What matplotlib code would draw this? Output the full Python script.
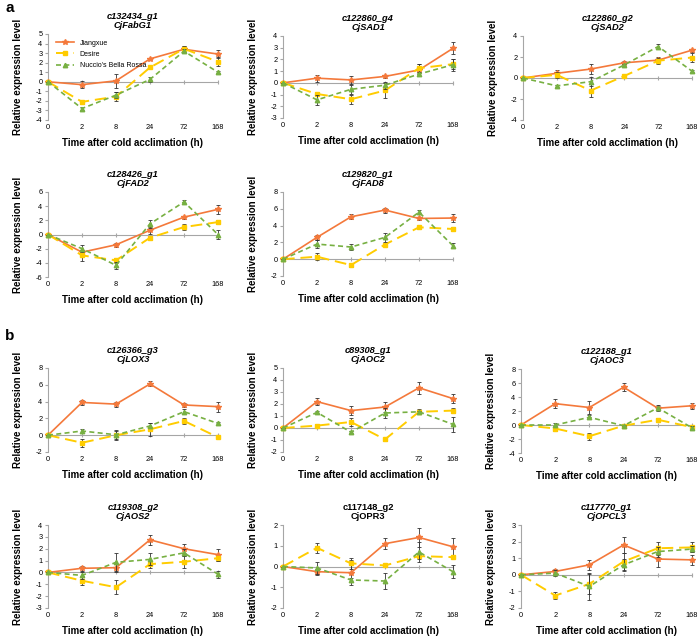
import matplotlib
matplotlib.use('Agg')
import matplotlib.pyplot as plt
from matplotlib.lines import Line2D
import numpy as np

plt.rcParams['font.family'] = ['Liberation Sans', 'DejaVu Sans']
plt.rcParams['axes.unicode_minus'] = False

# Time points (categorical)
times = ['0', '2', '8', '24', '72', '168']
cultivars = ['Jiangxue', 'Desire', "Nuccio's Bella Rossa"]

# values per panel: [Jiangxue, Desire, Nuccio's Bella Rossa]
fabg1 = [[0, -0.3, 0.1, 2.4, 3.4, 2.9],
         [0, -2.1, -1.55, 1.5, 3.45, 2.1],
         [0, -2.8, -1.4, 0.25, 3.2, 1.0]]
fabg1_err = [[0, 0.35, 0.7, 0.1, 0.3, 0.4],
             [0, 0.2, 0.5, 0.1, 0.3, 0.5],
             [0, 0.2, 0.3, 0.3, 0.2, 0.1]]

sad1 = [[0, 0.4, 0.25, 0.55, 1.1, 2.95],
        [0, -0.95, -1.4, -0.65, 1.25, 1.6],
        [0, -1.45, -0.55, -0.2, 0.75, 1.55]]
sad1_err = [[0, 0.3, 0.35, 0.15, 0.5, 0.5],
            [0, 0.15, 0.4, 0.6, 0.4, 0.4],
            [0, 0.4, 0.4, 0.3, 0.2, 0.5]]

sad2 = [[0, 0.45, 0.85, 1.45, 1.7, 2.65],
        [0, 0.3, -1.2, 0.2, 1.65, 1.95],
        [0, -0.75, -0.35, 1.25, 3.0, 0.65]]
sad2_err = [[0, 0.3, 0.5, 0.15, 0.3, 0.15],
            [0, 0.3, 0.6, 0.1, 0.3, 0.4],
            [0, 0.1, 0.4, 0.1, 0.2, 0.1]]

fad2 = [[0, -2.5, -1.45, 0.6, 2.45, 3.55],
        [0, -2.95, -3.65, -0.45, 1.05, 1.75],
        [0, -2.0, -4.35, 1.5, 4.6, 0.0]]
fad2_err = [[0, 0.2, 0.3, 0.5, 0.2, 0.6],
            [0, 0.8, 0.4, 0.3, 0.4, 0.3],
            [0, 0.5, 0.5, 0.6, 0.3, 0.7]]

fad8 = [[0, 2.6, 5.05, 5.85, 4.85, 4.9],
        [0, 0.3, -0.7, 1.75, 3.8, 3.6],
        [0, 1.8, 1.45, 2.6, 5.6, 1.6]]
fad8_err = [[0, 0.3, 0.3, 0.3, 0.2, 0.5],
            [0, 0.4, 0.2, 0.2, 0.2, 0.2],
            [0, 0.5, 0.4, 0.5, 0.2, 0.3]]

lox3 = [[0, 3.9, 3.7, 6.1, 3.6, 3.4],
        [0, -0.9, 0.0, 0.7, 1.7, -0.25],
        [0, 0.5, 0.05, 1.1, 2.8, 1.4]]
lox3_err = [[0, 0.3, 0.3, 0.3, 0.2, 0.6],
            [0, 0.5, 0.5, 0.8, 0.4, 0.1],
            [0, 0.2, 0.6, 0.3, 0.3, 0.2]]

aoc2 = [[0, 2.2, 1.45, 1.75, 3.35, 2.45],
        [0, 0.2, 0.5, -0.95, 1.35, 1.45],
        [0, 1.3, -0.35, 1.25, 1.35, 0.3]]
aoc2_err = [[0, 0.3, 0.4, 0.4, 0.5, 0.4],
            [0, 0.1, 0.3, 0.1, 0.2, 0.2],
            [0, 0.1, 0.1, 0.4, 0.1, 0.6]]

aoc3 = [[0, 3.05, 2.5, 5.4, 2.4, 2.75],
        [0, -0.5, -1.6, -0.1, 0.75, -0.3],
        [0, 0.0, 1.1, -0.1, 2.45, -0.4]]
aoc3_err = [[0, 0.6, 0.9, 0.6, 0.3, 0.4],
            [0, 0.3, 0.5, 0.1, 0.3, 0.3],
            [0, 0.3, 0.3, 0.1, 0.4, 0.3]]

aos2 = [[0, 0.35, 0.4, 2.75, 2.0, 1.5],
        [0, -0.7, -1.25, 0.7, 0.9, 1.2],
        [0, -0.25, 0.85, 1.1, 1.65, -0.15]]
aos2_err = [[0, 0.2, 0.3, 0.4, 0.4, 0.5],
            [0, 0.4, 0.6, 0.3, 0.5, 0.2],
            [0, 0.3, 0.8, 0.5, 0.3, 0.3]]

opr3 = [[0, -0.25, -0.3, 1.1, 1.4, 0.95],
        [0, 0.9, 0.15, 0.05, 0.5, 0.45],
        [0, -0.07, -0.65, -0.7, 0.7, -0.25]]
opr3_err = [[0, 0.15, 0.6, 0.25, 0.45, 0.4],
            [0, 0.25, 0.25, 0.05, 0.15, 0.05],
            [0, 0.3, 0.1, 0.4, 0.5, 0.3]]

opcl3 = [[0, 0.2, 0.6, 1.8, 0.95, 0.9],
         [0, -1.25, -0.55, 0.8, 1.6, 1.65],
         [0, 0.1, -0.7, 0.6, 1.4, 1.55]]
opcl3_err = [[0, 0.15, 0.3, 0.5, 0.45, 0.3],
             [0, 0.2, 0.6, 0.5, 0.4, 0.3],
             [0, 0.2, 0.8, 0.35, 0.3, 0.2]]

colors = ['#F4793B', '#FFCC00', '#77B042']
styles = ['-', (0, (6, 3)), (0, (3, 2))]
markers = ['*', 's', '^']
widths = [1.2, 1.4, 1.2]
msizes = [4, 3.2, 3.2]

fig = plt.figure(figsize=(7, 6.38), dpi=100)


def make_ax(x0, x1, yt, yb):
    return fig.add_axes([x0 / 700, 1 - yb / 638, (x1 - x0) / 700, (yb - yt) / 638])


def panel(box, gid, name, vals, errs, ylim, step, italic=True, legend=False):
    ax = make_ax(*box)
    x = np.arange(len(times))
    for i in range(3):
        ln = ax.errorbar(x, vals[i], yerr=errs[i], color=colors[i], ls=styles[i],
                         lw=widths[i], marker=markers[i], ms=msizes[i],
                         ecolor='#333333', elinewidth=0.6, capsize=1.5, capthick=0.6,
                         zorder=3 + i)
        ln[0].set_clip_on(False)
        for c in list(ln[1]) + list(ln[2]):
            c.set_clip_on(False)
    ax.set_xlim(0, 5)
    ax.set_ylim(*ylim)
    ax.set_yticks(np.arange(ylim[0], ylim[1] + 0.01, step))
    ax.spines['top'].set_visible(False)
    ax.spines['right'].set_visible(False)
    ax.spines['left'].set_color('#A6A6A6')
    ax.spines['bottom'].set_position(('data', 0))
    ax.spines['bottom'].set_color('#A6A6A6')
    ax.set_xticks(x)
    ax.tick_params(axis='x', direction='inout', length=3, color='#A6A6A6', labelbottom=False)
    ax.tick_params(axis='y', length=2, color='#A6A6A6', labelsize=5.3, pad=2)
    sec = ax.secondary_xaxis(0)
    sec.set_xticks(x, times)
    sec.tick_params(length=0, labelsize=5.3, pad=3)
    sec.spines['bottom'].set_visible(False)
    sec.set_xlabel('Time after cold acclimation (h)', fontsize=7, fontweight='bold', labelpad=5)
    ax.set_ylabel('Relative expression level', fontsize=7, fontweight='bold', labelpad=9)
    ax.set_title(gid + '\n' + name, fontsize=6.7, fontweight='bold',
                 style='italic' if italic else 'normal', pad=4, linespacing=1.1)
    if legend:
        handles = [Line2D([], [], color=colors[i], ls=styles[i], lw=widths[i],
                          marker=markers[i], ms=msizes[i]) for i in range(3)]
        ax.legend(handles, cultivars, loc='upper left', frameon=False, fontsize=5,
                  handlelength=2.6, borderaxespad=0.3, labelspacing=0.6,
                  bbox_to_anchor=(0.02, 0.99))
    return ax


panel((48, 218, 34, 120), 'c132434_g1', 'CjFabG1', fabg1, fabg1_err, (-4, 5), 1, legend=True)
panel((283, 453, 36, 118), 'c122860_g4', 'CjSAD1', sad1, sad1_err, (-3, 4), 1)
panel((523, 692, 36, 120), 'c122860_g2', 'CjSAD2', sad2, sad2_err, (-4, 4), 2)
panel((48, 218, 192, 277), 'c128426_g1', 'CjFAD2', fad2, fad2_err, (-6, 6), 2)
panel((283, 453, 192, 276), 'c129820_g1', 'CjFAD8', fad8, fad8_err, (-2, 8), 2)
panel((48, 218, 368, 452), 'c126366_g3', 'CjLOX3', lox3, lox3_err, (-2, 8), 2)
panel((283, 453, 368, 452), 'c89308_g1', 'CjAOC2', aoc2, aoc2_err, (-2, 5), 1)
panel((521, 692, 369, 453), 'c122188_g1', 'CjAOC3', aoc3, aoc3_err, (-4, 8), 2)
panel((48, 218, 525, 608), 'c119308_g2', 'CjAOS2', aos2, aos2_err, (-3, 4), 1)
panel((283, 453, 525, 608), 'c117148_g2', 'CjOPR3', opr3, opr3_err, (-2, 2), 1, italic=False)
panel((521, 692, 525, 608), 'c117770_g1', 'CjOPCL3', opcl3, opcl3_err, (-2, 3), 1)

fig.text(5 / 700, 1 - 8 / 638, 'a', fontsize=11, fontweight='bold', va='center')
fig.text(5 / 700, 1 - 336 / 638, 'b', fontsize=11, fontweight='bold', va='center')

fig.savefig('out.png', dpi=100)
